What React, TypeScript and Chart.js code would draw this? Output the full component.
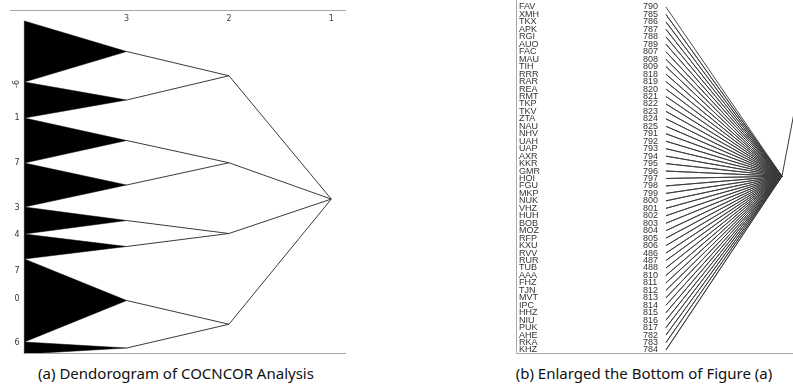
import React, { useEffect, useRef } from "react";
import { Chart, registerables } from "chart.js";
Chart.register(...registerables);

// ---------- Panel (a): dendrogram ----------
const levelTicks = [3, 2, 1];
const leafLevel = 4;
const clusterLevel = 3;
const pairLevel = 2;
const rootLevel = 1;
const clusterSizes = [61, 36, 45, 44, 27, 25, 83, 12];
const clusterPairs = [
  [0, 1],
  [2, 3],
  [4, 5],
  [6, 7],
];
const sideLabels = ["-6", "1", "7", "3", "4", "7", "0", "6"];
const sideLabelPos = [63, 97, 142, 187, 214, 250, 278, 322];

// ---------- Panel (b): enlarged bottom ----------
const leafNames = [
  "FAV", "XMH", "TKX", "APK", "RGI", "AUO", "FAC", "MAU", "TIH", "RRR", "RAR", "REA",
  "RMT", "TKP", "TKV", "ZTA", "NAU", "NHV", "UAH", "UAP", "AXR", "KKR", "GMR", "HOI",
  "FGU", "MKP", "NUK", "VHZ", "HUH", "BOB", "MOZ", "RFP", "KXU", "RVV", "RUR", "TUB",
  "AAA", "FHZ", "TJN", "MVT", "IPC", "HHZ", "NIU", "PUK", "AHE", "RKA", "KHZ",
];
const leafIds = [
  "790", "785", "786", "787", "788", "789", "807", "808", "809", "818", "819", "820",
  "821", "822", "823", "824", "825", "791", "792", "793", "794", "795", "796", "797",
  "798", "799", "800", "801", "802", "803", "804", "805", "806", "486", "487", "488",
  "810", "811", "812", "813", "814", "815", "816", "817", "782", "783", "784",
];
const leafDistance = 0;
const nodeDistance = 1;
const nodeRow = 22.7;
const parentDistance = 1.2;
const parentRow = 6.3;

const captionA = "(a) Dendorogram of COCNCOR Analysis";
const captionB = "(b) Enlarged the Bottom of Figure (a)";

const LINE = "#3a3a3a";
const BORDER = "#a8a8a8";

export default function App() {
  const refA = useRef<HTMLCanvasElement | null>(null);
  const refB = useRef<HTMLCanvasElement | null>(null);

  useEffect(() => {
    // ----- build panel (a) -----
    let cum = 0;
    const clusters = clusterSizes.map((s) => {
      const start = cum;
      const end = cum + s;
      cum = end;
      return { start, end, mid: (start + end) / 2 };
    });
    const pairNodes = clusterPairs.map(
      ([a, b]) => (clusters[a].mid + clusters[b].mid) / 2
    );
    const root = pairNodes.reduce((s, v) => s + v, 0) / pairNodes.length;

    const dsA: any[] = [];
    clusters.forEach((c) => {
      dsA.push({
        data: [
          { x: leafLevel, y: c.start },
          { x: clusterLevel, y: c.mid },
          { x: leafLevel, y: c.end },
          { x: leafLevel, y: c.start },
        ],
        borderColor: "#000",
        backgroundColor: "#000",
        borderWidth: 0.5,
        fill: "shape",
        pointRadius: 0,
        tension: 0,
      });
    });
    clusterPairs.forEach(([a, b], i) => {
      dsA.push({
        data: [
          { x: clusterLevel, y: clusters[a].mid },
          { x: pairLevel, y: pairNodes[i] },
          { x: clusterLevel, y: clusters[b].mid },
        ],
        borderColor: LINE,
        borderWidth: 1,
        fill: false,
        pointRadius: 0,
      });
    });
    for (let i = 0; i < pairNodes.length; i += 2) {
      dsA.push({
        data: [
          { x: pairLevel, y: pairNodes[i] },
          { x: rootLevel, y: root },
          { x: pairLevel, y: pairNodes[i + 1] },
        ],
        borderColor: LINE,
        borderWidth: 1,
        fill: false,
        pointRadius: 0,
      });
    }

    const decorA = {
      id: "decorA",
      afterDraw(chart: any) {
        const { ctx, chartArea } = chart;
        const xs = chart.scales.x;
        const ys = chart.scales.y;
        ctx.save();
        ctx.strokeStyle = BORDER;
        ctx.lineWidth = 1;
        ctx.beginPath();
        ctx.moveTo(chartArea.left, Math.round(chartArea.top) + 0.5);
        ctx.lineTo(chartArea.right, Math.round(chartArea.top) + 0.5);
        ctx.moveTo(xs.getPixelForValue(leafLevel), Math.round(chartArea.bottom) - 0.5);
        ctx.lineTo(chartArea.right, Math.round(chartArea.bottom) - 0.5);
        ctx.stroke();
        ctx.fillStyle = "#444";
        ctx.font = "8px 'DejaVu Sans'";
        ctx.textAlign = "center";
        ctx.textBaseline = "middle";
        levelTicks.forEach((t) => {
          ctx.fillText(String(t), xs.getPixelForValue(t), chartArea.top + 9);
        });
        ctx.font = "8px 'DejaVu Sans'";
        ctx.fillStyle = "#333";
        sideLabels.forEach((lab, i) => {
          const y = ys.getPixelForValue(sideLabelPos[i]);
          const x = chartArea.left + 7;
          if (lab.startsWith("-")) {
            ctx.save();
            ctx.translate(x, y);
            ctx.rotate(-Math.PI / 2);
            ctx.fillText(lab, 0, 0);
            ctx.restore();
          } else {
            ctx.fillText(lab, x, y);
          }
        });
        ctx.restore();
      },
    };

    const chartA = new Chart(refA.current as HTMLCanvasElement, {
      type: "line",
      data: { datasets: dsA },
      options: {
        animation: false,
        responsive: false,
        events: [],
        layout: { padding: { left: 10, right: 6, top: 10, bottom: 8 } },
        plugins: { legend: { display: false }, tooltip: { enabled: false } },
        scales: {
          x: { type: "linear", display: false, reverse: true, min: 0.856, max: 4.14 },
          y: { type: "linear", display: false, reverse: true, min: -11, max: 333 },
        },
      },
      plugins: [decorA],
    });

    // ----- build panel (b) -----
    const fan: any[] = [];
    leafNames.forEach((_, i) => {
      fan.push({ x: leafDistance, y: i });
      fan.push({ x: nodeDistance, y: nodeRow });
    });
    const dsB: any[] = [
      {
        data: fan,
        borderColor: LINE,
        borderWidth: 0.9,
        fill: false,
        pointRadius: 0,
      },
      {
        data: [
          { x: nodeDistance, y: nodeRow },
          { x: parentDistance, y: parentRow },
        ],
        borderColor: LINE,
        borderWidth: 1,
        fill: false,
        pointRadius: 0,
      },
    ];

    const decorB = {
      id: "decorB",
      afterDraw(chart: any) {
        const { ctx, chartArea } = chart;
        const ys = chart.scales.y;
        ctx.save();
        ctx.strokeStyle = BORDER;
        ctx.lineWidth = 1;
        ctx.beginPath();
        ctx.moveTo(Math.round(chartArea.left) + 0.5, chartArea.top);
        ctx.lineTo(Math.round(chartArea.left) + 0.5, Math.round(chartArea.bottom) - 0.5);
        ctx.lineTo(chartArea.right, Math.round(chartArea.bottom) - 0.5);
        ctx.stroke();
        ctx.fillStyle = "#333";
        ctx.font = "9px 'Liberation Sans'";
        ctx.textAlign = "left";
        ctx.textBaseline = "middle";
        leafNames.forEach((n, i) => {
          const y = ys.getPixelForValue(i);
          ctx.fillText(n, chartArea.left + 3, y);
          ctx.fillText(leafIds[i], chartArea.left + 127, y);
        });
        ctx.restore();
      },
    };

    const chartB = new Chart(refB.current as HTMLCanvasElement, {
      type: "line",
      data: { datasets: dsB },
      options: {
        animation: false,
        responsive: false,
        events: [],
        layout: { padding: { left: 0, right: 0, top: 0, bottom: 8 } },
        plugins: { legend: { display: false }, tooltip: { enabled: false } },
        scales: {
          x: { type: "linear", display: false, min: -1.293, max: 1.095 },
          y: { type: "linear", display: false, reverse: true, min: -0.94, max: 46.54 },
        },
      },
      plugins: [decorB],
    });

    return () => {
      chartA.destroy();
      chartB.destroy();
    };
  }, []);

  const captionStyle: React.CSSProperties = {
    position: "absolute",
    top: 362,
    height: 22,
    lineHeight: "22px",
    textAlign: "center",
    fontFamily: "'Noto Sans', sans-serif",
    fontSize: 15,
    color: "#111",
    whiteSpace: "nowrap",
  };

  return (
    <div
      style={{
        position: "fixed",
        left: 0,
        top: 0,
        width: 793,
        height: 385,
        background: "#fff",
        overflow: "hidden",
      }}
    >
      <canvas
        ref={refA}
        width={352}
        height={362}
        style={{ position: "absolute", left: 0, top: 0, width: 352, height: 362 }}
      />
      <canvas
        ref={refB}
        width={277}
        height={362}
        style={{ position: "absolute", left: 516, top: 0, width: 277, height: 362 }}
      />
      <div style={{ ...captionStyle, left: 0, width: 352 }}>{captionA}</div>
      <div style={{ ...captionStyle, left: 500, width: 288 }}>{captionB}</div>
    </div>
  );
}
